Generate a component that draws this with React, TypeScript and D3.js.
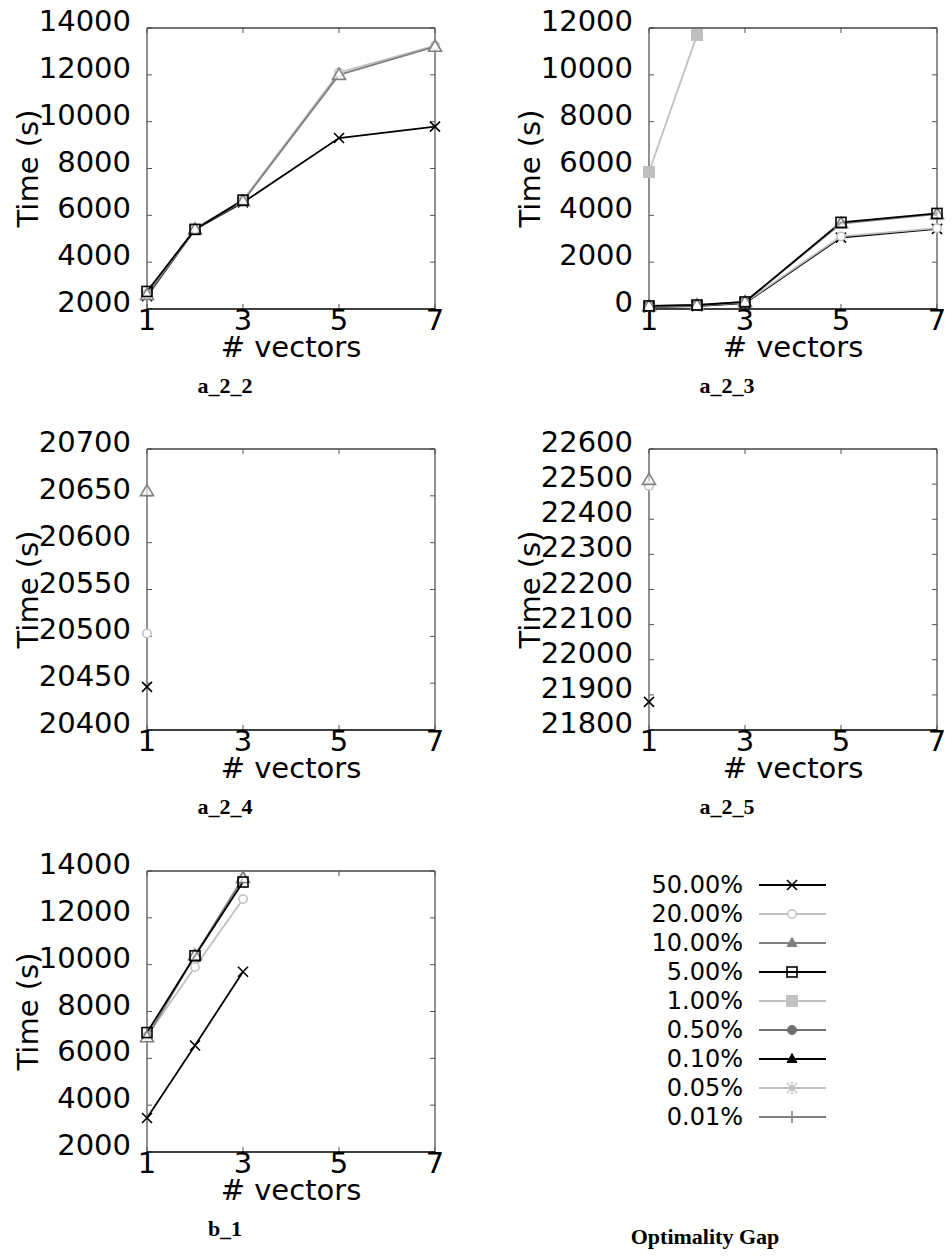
import React from "react";
import * as d3 from "d3";

// ---------- data ----------
const seriesNames = ["50.00%", "20.00%", "10.00%", "5.00%", "1.00%", "0.50%", "0.10%", "0.05%", "0.01%"];
const seriesColors = ["#000000", "#c0c0c0", "#808080", "#000000", "#c0c0c0", "#707070", "#000000", "#c0c0c0", "#808080"];
const legendMarkers = ["x", "circle", "triFilled", "square", "squareFilled", "circleFilled", "triFilled", "star", "plus"];
const plotMarkers = ["x", "circle", "tri", "square", "squareFilled", "circleFilled", "triFilled", "star", "plus"];

const xTicks = [1, 3, 5, 7];
const xLabel = "# vectors";
const yLabel = "Time (s)";

// a_2_2
const a22X = [1, 2, 3, 5, 7];
const a22_50 = [2550, 5400, 6550, 9300, 9790];
const a22_20 = [2650, 5450, 6650, 12100, 13250];
const a22_10 = [2600, 5400, 6600, 12000, 13200];
const a22_5 = [2750, 5400, 6650];
const a22Ticks = [2000, 4000, 6000, 8000, 10000, 12000, 14000];

// a_2_3
const a23X = [1, 2, 3, 5, 7];
const a23_50 = [80, 120, 250, 3050, 3420];
const a23_20 = [100, 140, 280, 3100, 3450];
const a23_10 = [120, 160, 300, 3650, 4050];
const a23_5 = [130, 170, 300, 3700, 4080];
const a23_1 = [5850, 11700];
const a23Ticks = [0, 2000, 4000, 6000, 8000, 10000, 12000];

// a_2_4
const a24X = [1];
const a24_50 = [20446];
const a24_20 = [20503];
const a24_10 = [20655];
const a24Ticks = [20400, 20450, 20500, 20550, 20600, 20650, 20700];

// a_2_5
const a25X = [1];
const a25_50 = [21880];
const a25_20 = [22495];
const a25_10 = [22512];
const a25Ticks = [21800, 21900, 22000, 22100, 22200, 22300, 22400, 22500, 22600];

// b_1
const b1X = [1, 2, 3];
const b1_50 = [3450, 6550, 9700];
const b1_20 = [6950, 9900, 12800];
const b1_10 = [6900, 10400, 13700];
const b1_5 = [7100, 10380, 13530];
const b1Ticks = [2000, 4000, 6000, 8000, 10000, 12000, 14000];

type S = { idx: number; xs: number[]; ys: number[] };
type PanelDef = { title: string; ticks: number[]; series: S[] };

const panels: PanelDef[] = [
  {
    title: "a_2_2", ticks: a22Ticks,
    series: [
      { idx: 0, xs: a22X, ys: a22_50 },
      { idx: 1, xs: a22X, ys: a22_20 },
      { idx: 2, xs: a22X, ys: a22_10 },
      { idx: 3, xs: a22X.slice(0, a22_5.length), ys: a22_5 },
    ],
  },
  {
    title: "a_2_3", ticks: a23Ticks,
    series: [
      { idx: 0, xs: a23X, ys: a23_50 },
      { idx: 1, xs: a23X, ys: a23_20 },
      { idx: 2, xs: a23X, ys: a23_10 },
      { idx: 3, xs: a23X, ys: a23_5 },
      { idx: 4, xs: a23X.slice(0, a23_1.length), ys: a23_1 },
    ],
  },
  {
    title: "a_2_4", ticks: a24Ticks,
    series: [
      { idx: 0, xs: a24X, ys: a24_50 },
      { idx: 1, xs: a24X, ys: a24_20 },
      { idx: 2, xs: a24X, ys: a24_10 },
    ],
  },
  {
    title: "a_2_5", ticks: a25Ticks,
    series: [
      { idx: 0, xs: a25X, ys: a25_50 },
      { idx: 1, xs: a25X, ys: a25_20 },
      { idx: 2, xs: a25X, ys: a25_10 },
    ],
  },
  {
    title: "b_1", ticks: b1Ticks,
    series: [
      { idx: 0, xs: b1X, ys: b1_50 },
      { idx: 1, xs: b1X, ys: b1_20 },
      { idx: 2, xs: b1X, ys: b1_10 },
      { idx: 3, xs: b1X, ys: b1_5 },
    ],
  },
];

// ---------- layout ----------
const W = 952;
const H = 1260;
const colLeft = [147, 649];
const rowTop = [28, 449, 871];
const PW = 288;
const PH = 281;
const FONT = "DejaVu Sans, Verdana, sans-serif";
const SERIF = "Liberation Serif, Times New Roman, serif";

function Marker({ type, x, y, color }: { type: string; x: number; y: number; color: string }) {
  const s = 5;
  switch (type) {
    case "x":
      return (
        <g stroke={color} strokeWidth={1.6}>
          <line x1={x - s} y1={y - s} x2={x + s} y2={y + s} />
          <line x1={x - s} y1={y + s} x2={x + s} y2={y - s} />
        </g>
      );
    case "circle":
      return <circle cx={x} cy={y} r={4.2} fill="white" stroke={color} strokeWidth={1.5} />;
    case "circleFilled":
      return <circle cx={x} cy={y} r={4.5} fill={color} stroke={color} />;
    case "tri":
      return <path d={`M${x},${y - 6.5}L${x + 6.5},${y + 4.5}L${x - 6.5},${y + 4.5}Z`} fill="white" fillOpacity={0.6} stroke={color} strokeWidth={1.6} />;
    case "triFilled":
      return <path d={`M${x},${y - 5.5}L${x + 5},${y + 3.5}L${x - 5},${y + 3.5}Z`} fill={color} stroke={color} />;
    case "square":
      return <rect x={x - 5} y={y - 5} width={10} height={10} fill="none" stroke={color} strokeWidth={1.6} />;
    case "squareFilled":
      return <rect x={x - 5.5} y={y - 5.5} width={11} height={11} fill={color} stroke={color} />;
    case "star":
      return (
        <g stroke={color} strokeWidth={1.5}>
          <line x1={x - s} y1={y - s} x2={x + s} y2={y + s} />
          <line x1={x - s} y1={y + s} x2={x + s} y2={y - s} />
          <line x1={x - s - 1} y1={y} x2={x + s + 1} y2={y} />
          <line x1={x} y1={y - s - 1} x2={x} y2={y + s + 1} />
        </g>
      );
    case "plus":
      return (
        <g stroke={color} strokeWidth={1.5}>
          <line x1={x - s - 1} y1={y} x2={x + s + 1} y2={y} />
          <line x1={x} y1={y - s - 1} x2={x} y2={y + s + 1} />
        </g>
      );
    default:
      return null;
  }
}

function Panel({ def, left, top }: { def: PanelDef; left: number; top: number }) {
  const x = d3.scaleLinear().domain([1, 7]).range([left, left + PW]);
  const y = d3.scaleLinear().domain([def.ticks[0], def.ticks[def.ticks.length - 1]]).range([top + PH, top]);
  const line = d3.line<[number, number]>().x((d) => x(d[0])).y((d) => y(d[1]));
  const tl = 5;
  const bottom = top + PH;
  const right = left + PW;
  return (
    <g>
      {/* ticks */}
      {def.ticks.map((t, i) => (
        <g key={"yt" + i}>
          <line x1={left} x2={left + tl} y1={y(t)} y2={y(t)} stroke="#555" strokeWidth={1} />
          <line x1={right - tl} x2={right} y1={y(t)} y2={y(t)} stroke="#555" strokeWidth={1} />
          <text x={left - 16} y={y(t) - 7} textAnchor="end" dominantBaseline="central" fontFamily={FONT} fontSize={29} fill="#000">
            {t}
          </text>
        </g>
      ))}
      {xTicks.map((t, i) => (
        <g key={"xt" + i}>
          <line x1={x(t)} x2={x(t)} y1={bottom} y2={bottom - tl} stroke="#555" strokeWidth={1} />
          <line x1={x(t)} x2={x(t)} y1={top} y2={top + tl} stroke="#555" strokeWidth={1} />
          <text x={x(t)} y={bottom + 21} textAnchor="middle" fontFamily={FONT} fontSize={29} fill="#000">
            {t}
          </text>
        </g>
      ))}
      {/* frame */}
      <line x1={left} x2={right} y1={top} y2={top} stroke="#444" strokeWidth={1.3} />
      <line x1={right} x2={right} y1={top} y2={bottom} stroke="#555" strokeWidth={1.3} />
      <line x1={left} x2={left} y1={top} y2={bottom} stroke="#555" strokeWidth={1.3} />
      <line x1={left} x2={right} y1={bottom} y2={bottom} stroke="#000" strokeWidth={1.3} />
      {/* axis labels */}
      <text x={(left + right) / 2} y={bottom + 48} textAnchor="middle" fontFamily={FONT} fontSize={29} fill="#000">
        {xLabel}
      </text>
      <text
        transform={`translate(${left - 119},${(top + bottom) / 2}) rotate(-90)`}
        textAnchor="middle"
        dominantBaseline="central"
        fontFamily={FONT}
        fontSize={29}
        fill="#000"
      >
        {yLabel}
      </text>
      {/* series lines */}
      {def.series.map((s, i) => (
        <path
          key={"l" + i}
          d={line(s.xs.map((v, j) => [v, s.ys[j]] as [number, number])) || ""}
          fill="none"
          stroke={seriesColors[s.idx]}
          strokeWidth={1.8}
        />
      ))}
      {def.series.map((s, i) => (
        <g key={"m" + i}>
          {s.xs.map((v, j) => (
            <Marker key={j} type={plotMarkers[s.idx]} x={x(v)} y={y(s.ys[j])} color={seriesColors[s.idx]} />
          ))}
        </g>
      ))}
      {/* title */}
      <text x={left + 78} y={bottom + 84} textAnchor="middle" fontFamily={SERIF} fontWeight="bold" fontSize={22} fill="#000">
        {def.title}
      </text>
    </g>
  );
}

function Legend() {
  const ly = d3.scaleLinear().domain([0, seriesNames.length - 1]).range([885, 1117]);
  return (
    <g>
      {seriesNames.map((n, i) => (
        <g key={n}>
          <text x={743} y={ly(i)} textAnchor="end" dominantBaseline="central" fontFamily={FONT} fontSize={24} fill="#000">
            {n}
          </text>
          <line x1={759} x2={826} y1={ly(i)} y2={ly(i)} stroke={seriesColors[i]} strokeWidth={1.8} />
          <Marker type={legendMarkers[i]} x={792} y={ly(i)} color={seriesColors[i]} />
        </g>
      ))}
      <text x={705} y={1244} textAnchor="middle" fontFamily={SERIF} fontWeight="bold" fontSize={22} fill="#000">
        Optimality Gap
      </text>
    </g>
  );
}

export default function App() {
  return (
    <svg width={W} height={H} style={{ position: "absolute", left: 0, top: 0, background: "white" }}>
      <rect width={W} height={H} fill="white" />
      {panels.map((p, i) => (
        <Panel key={p.title} def={p} left={colLeft[i % 2]} top={rowTop[Math.floor(i / 2)]} />
      ))}
      <Legend />
    </svg>
  );
}
